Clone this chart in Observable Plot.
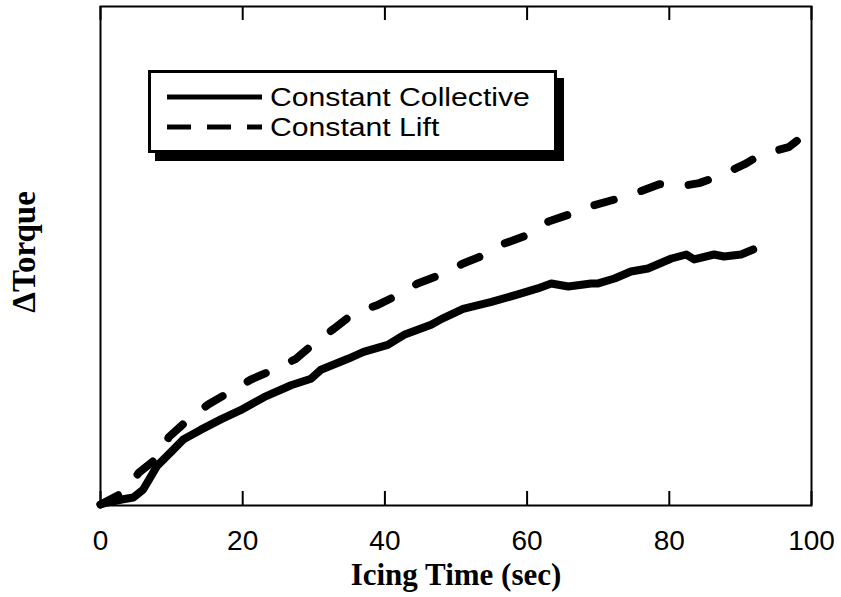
<!DOCTYPE html>
<html>
<head>
<meta charset="utf-8">
<script src="https://cdn.jsdelivr.net/npm/d3@7"></script>
<script src="https://cdn.jsdelivr.net/npm/@observablehq/plot@0.6"></script>
<style>
  html, body { margin: 0; padding: 0; background: #fff; }
  #wrap { position: relative; width: 841px; height: 597px; }
  #legend {
    position: absolute; left: 148px; top: 70px; width: 403px; height: 77px;
    border: 3px solid #000; background: #fff; box-shadow: 7px 8px 0 #000;
    font-family: "Liberation Sans", Arial, sans-serif; font-size: 26px; color: #000;
  }
  #legend .row { position: absolute; left: 0; height: 30px; line-height: 30px; display: flex; align-items: center; }
  #legend svg { display: block; }
  #legend span { display: inline-block; white-space: nowrap; transform: scaleX(1.16); transform-origin: left center; }
</style>
</head>
<body>
<div id="wrap"></div>
<script>
// Icing time (sec) and ΔTorque (arbitrary units, 0 = bottom of frame, 100 = top)
const collectiveTime = [0, 1, 3, 4.6, 6, 8, 9.9, 11.7, 14, 17, 19.7, 23, 26.8, 29.6, 31, 34.8, 37, 40.4, 42.7, 46.5, 48, 51, 55, 58.7, 61.5, 63.4, 65.8, 69, 70, 72.3, 74.6, 77, 80.3, 82.4, 83.5, 86.3, 87.7, 90.1, 91.8];
const collectiveTorque = [0.2, 0.6, 1.2, 1.6, 3.2, 8.0, 10.7, 13.3, 15.1, 17.3, 19.1, 21.7, 24.1, 25.4, 27.2, 29.4, 30.8, 32.2, 34.2, 36.2, 37.4, 39.4, 40.8, 42.3, 43.5, 44.5, 43.9, 44.5, 44.5, 45.5, 46.9, 47.5, 49.5, 50.3, 49.3, 50.3, 49.9, 50.3, 51.3];

const liftTime = [0, 3.5, 5.4, 8.5, 9.6, 12.7, 15.2, 18.6, 21.1, 24.6, 27.5, 30.6, 32.8, 35.5, 39, 42.3, 44.6, 48.3, 51, 54.5, 56.8, 60.6, 63, 66.5, 69, 72.5, 74.9, 78.6, 80.7, 84.2, 87, 90.6, 93, 96.8, 99.3, 100];
const liftTorque = [0.2, 2.8, 6.6, 10.1, 13.7, 17.7, 20.3, 23.1, 25.2, 27.4, 29.4, 33.2, 35.4, 38.4, 40.2, 42.5, 44.5, 46.5, 48.5, 50.5, 52.5, 54.5, 56.9, 58.6, 60.0, 61.4, 62.4, 64.4, 63.8, 64.6, 66.0, 68.4, 70.4, 71.8, 74.6, 75.1];

const seriesNames = ["Constant Collective", "Constant Lift"];
const xTicks = [0, 20, 40, 60, 80, 100];
const xLabel = "Icing Time (sec)";
const yLabel = "ΔTorque";

const collective = collectiveTime.map((t, i) => ({t, v: collectiveTorque[i]}));
const lift = liftTime.map((t, i) => ({t, v: liftTorque[i]}));

const W = 841, H = 597;
const mL = 100, mR = 30, mT = 6, mB = 92;
const plotH = H - mT - mB;
const tickLen = 14;

const chart = Plot.plot({
  width: W, height: H,
  marginLeft: mL, marginRight: mR, marginTop: mT, marginBottom: mB,
  x: {domain: [0, 100]},
  y: {domain: [0, 100], axis: null},
  style: {fontFamily: "'Liberation Sans', Arial, sans-serif", background: "#fff", color: "#000"},
  marks: [
    Plot.axisX({ticks: xTicks, tickSize: 0, tickPadding: 25, fontSize: 28, label: null, tickFormat: d => String(d)}),
    Plot.ruleX(xTicks, {x: d => d, stroke: "#000", strokeWidth: 2, insetTop: plotH - tickLen}),
    Plot.ruleX(xTicks, {x: d => d, stroke: "#000", strokeWidth: 2, insetBottom: plotH - tickLen}),
    Plot.line(lift, {x: "t", y: "v", stroke: "#000", strokeWidth: 8, strokeLinecap: "round", strokeLinejoin: "round", strokeDasharray: "20 29"}),
    Plot.line(collective, {x: "t", y: "v", stroke: "#000", strokeWidth: 8, strokeLinecap: "round", strokeLinejoin: "round"}),
    Plot.frame({stroke: "#000", strokeWidth: 2}),
    Plot.text([xLabel], {frameAnchor: "bottom", lineAnchor: "middle", textAnchor: "middle", dy: 70, text: d => d, fontFamily: "'Liberation Serif', 'Times New Roman', serif", fontWeight: "bold", fontSize: 31, fill: "#000"}),
    Plot.text([yLabel], {frameAnchor: "left", lineAnchor: "middle", textAnchor: "middle", dx: -76, dy: -4, rotate: -90, text: d => d, fontFamily: "'Liberation Serif', 'Times New Roman', serif", fontWeight: "bold", fontSize: 33, fill: "#000"})
  ]
});

const wrap = document.getElementById("wrap");
wrap.appendChild(chart);

// Legend overlay inside the plot area
const legend = document.createElement("div");
legend.id = "legend";
const rows = [
  {name: seriesNames[0], dash: null, top: 9},
  {name: seriesNames[1], dash: "24 16", top: 39}
];
rows.forEach(r => {
  const row = document.createElement("div");
  row.className = "row";
  row.style.top = r.top + "px";
  const ns = "http://www.w3.org/2000/svg";
  const s = document.createElementNS(ns, "svg");
  s.setAttribute("width", 119); s.setAttribute("height", 30);
  const ln = document.createElementNS(ns, "line");
  ln.setAttribute("x1", 16); ln.setAttribute("x2", 111);
  ln.setAttribute("y1", 15); ln.setAttribute("y2", 15);
  ln.setAttribute("stroke", "#000"); ln.setAttribute("stroke-width", 5);
  if (r.dash) ln.setAttribute("stroke-dasharray", r.dash);
  s.appendChild(ln);
  row.appendChild(s);
  const sp = document.createElement("span");
  sp.textContent = r.name;
  row.appendChild(sp);
  legend.appendChild(row);
});
wrap.appendChild(legend);
</script>
</body>
</html>
